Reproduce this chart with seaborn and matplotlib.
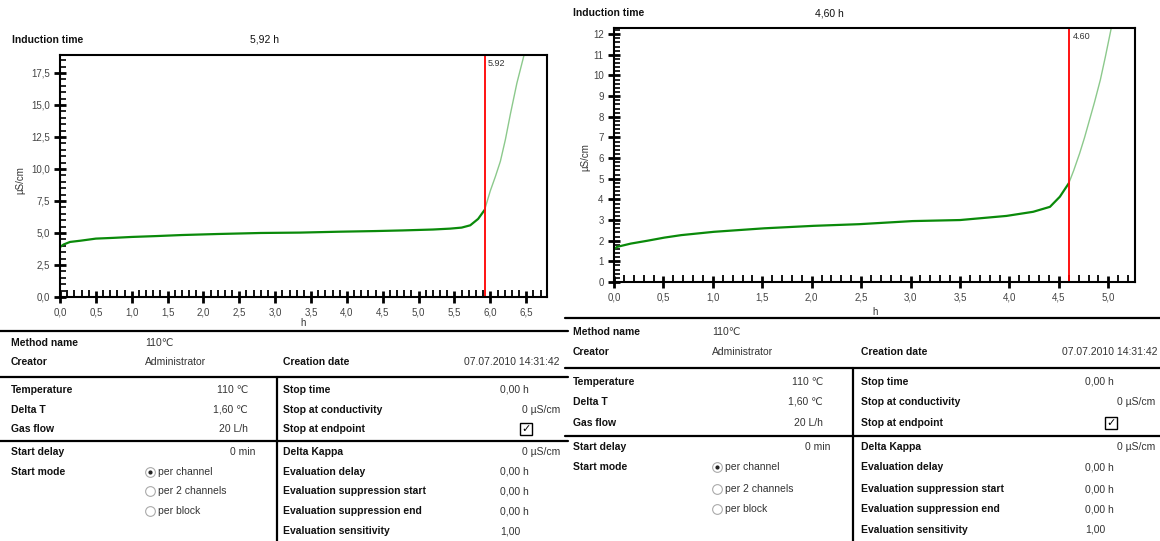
import numpy as np
import pandas as pd
import matplotlib
matplotlib.use("Agg")
import matplotlib.pyplot as plt
import seaborn as sns
from matplotlib.ticker import MultipleLocator, FuncFormatter
from matplotlib.lines import Line2D

# ---------------- data ----------------
left_t_pre = [0.00, 0.05, 0.14, 0.29, 0.50, 0.75, 1.00, 1.35, 1.70, 2.20, 2.80, 3.35, 3.90, 4.40, 4.78, 5.20, 5.44, 5.60, 5.72, 5.83, 5.92]
left_k_pre = [3.90, 4.10, 4.30, 4.40, 4.56, 4.62, 4.69, 4.76, 4.84, 4.92, 5.00, 5.03, 5.10, 5.15, 5.20, 5.27, 5.34, 5.42, 5.60, 6.10, 6.80]
left_t_post = [5.92, 6.00, 6.07, 6.14, 6.21, 6.28, 6.37, 6.47]
left_k_post = [6.80, 8.30, 9.40, 10.60, 12.30, 14.30, 16.70, 18.90]
left_induction = 5.92

right_t_pre = [0.00, 0.03, 0.17, 0.34, 0.51, 0.68, 1.01, 1.52, 2.02, 2.48, 3.02, 3.50, 3.97, 4.24, 4.41, 4.51, 4.60]
right_k_pre = [1.57, 1.70, 1.86, 2.00, 2.15, 2.27, 2.43, 2.60, 2.72, 2.80, 2.95, 3.00, 3.20, 3.40, 3.64, 4.13, 4.78]
right_t_post = [4.60, 4.65, 4.71, 4.76, 4.81, 4.86, 4.92, 4.97, 5.03]
right_k_post = [4.78, 5.40, 6.23, 7.00, 7.85, 8.70, 9.80, 10.90, 12.30]
right_induction = 4.60

left_header = ["Induction time", "5,92 h"]
right_header = ["Induction time", "4,60 h"]

method_labels = ["Method name", "Creator"]
method_values = ["110\u2103", "Administrator"]
cond_labels = ["Temperature", "Delta T", "Gas flow"]
cond_values = ["110 \u2103", "1,60 \u2103", "20 L/h"]
start_labels = ["Start delay", "Start mode"]
start_value = "0 min"
start_modes = ["per channel", "per 2 channels", "per block"]
stop_labels = ["Stop time", "Stop at conductivity", "Stop at endpoint"]
stop_values = ["0,00 h", "0 \u00b5S/cm", ""]
eval_labels = ["Delta Kappa", "Evaluation delay", "Evaluation suppression start",
               "Evaluation suppression end", "Evaluation sensitivity"]
eval_values = ["0 \u00b5S/cm", "0,00 h", "0,00 h", "0,00 h", "1,00"]
creation_label = "Creation date"
creation_value = "07.07.2010 14:31:42"

# ---------------- style ----------------
sns.set_style("white")
plt.rcParams["font.family"] = ["Liberation Sans", "DejaVu Sans"]

W, H = 1160, 541
fig = plt.figure(figsize=(W / 100, H / 100), dpi=100)
fig.patch.set_facecolor("white")


def fx(x):
    return x / W


def fy(y):
    return 1 - y / H


def T(x, y, s, ha="left", bold=False, size=7.5, color="#111111", **kw):
    fig.text(fx(x), fy(y), s, ha=ha, va="center", fontsize=size,
             fontweight="bold" if bold else "normal", color=color, **kw)


def HL(y, x0, x1, lw=1.0):
    fig.add_artist(Line2D([fx(x0), fx(x1)], [fy(y), fy(y)], color="black", lw=lw,
                          transform=fig.transFigure))


def VL(x, y0, y1, lw=1.0):
    fig.add_artist(Line2D([fx(x), fx(x)], [fy(y0), fy(y1)], color="black", lw=lw,
                          transform=fig.transFigure))


def comma(dec):
    return FuncFormatter(lambda v, p: (f"{v:.{dec}f}").replace(".", ","))


def make_chart(box, t_pre, k_pre, t_post, k_post, tind, xlim, ylim,
               ymaj, ymin, ydec, lab):
    x0, y0, x1, y1 = box
    ax = fig.add_axes([fx(x0), fy(y1), fx(x1 - x0), (y1 - y0) / H])
    d1 = pd.DataFrame({"t": t_pre, "k": k_pre})
    d2 = pd.DataFrame({"t": t_post, "k": k_post})
    sns.lineplot(data=d1, x="t", y="k", ax=ax, color="#0a8a0a", lw=1.6)
    sns.lineplot(data=d2, x="t", y="k", ax=ax, color="#8cc98c", lw=1.0)
    ax.axvline(tind, color="#ff0000", lw=1.3)
    ax.text(tind + 0.04, ylim[1] * 0.985, lab, ha="left", va="top",
            fontsize=6.5, color="#333333")
    ax.set_xlim(*xlim)
    ax.set_ylim(*ylim)
    ax.set_xlabel("")
    ax.set_ylabel("")
    for s in ax.spines.values():
        s.set_color("black")
        s.set_linewidth(1.5)
    ax.xaxis.set_major_locator(MultipleLocator(0.5))
    ax.xaxis.set_minor_locator(MultipleLocator(0.1))
    ax.yaxis.set_major_locator(MultipleLocator(ymaj))
    ax.yaxis.set_minor_locator(MultipleLocator(ymin))
    ax.xaxis.set_major_formatter(comma(1))
    ax.yaxis.set_major_formatter(comma(ydec))
    ax.tick_params(axis="both", which="major", direction="inout", length=9,
                   width=2, color="black", labelsize=7, labelcolor="#444444", pad=3)
    ax.tick_params(axis="x", which="minor", direction="in", length=5,
                   width=1.3, color="black")
    ax.tick_params(axis="y", which="minor", direction="in", length=4.5,
                   width=1.2, color="black")
    ax.tick_params(bottom=True, left=True, top=False, right=False, which="both")
    return ax


axL = make_chart((60, 55, 547, 297), left_t_pre, left_k_pre, left_t_post, left_k_post,
                 left_induction, (0, 6.79), (0, 18.9), 2.5, 0.5, 1, "5.92")
axR = make_chart((614, 28, 1135, 282), right_t_pre, right_k_pre, right_t_post, right_k_post,
                 right_induction, (0, 5.27), (0, 12.3), 1, 0.2, 0, "4.60")

# axis labels
T(20, 180, "\u00b5S/cm", ha="center", size=7, rotation=90, color="#333333")
T(585, 157, "\u00b5S/cm", ha="center", size=7, rotation=90, color="#333333")
T(303, 323, "h", ha="center", size=7, color="#333333")
T(875, 312, "h", ha="center", size=7, color="#333333")

# headers
T(12, 40, left_header[0], bold=True, size=7.5)
T(250, 40, left_header[1], size=7.5)
T(573, 13, right_header[0], bold=True, size=7.5)
T(815, 13, right_header[1], size=7.5)


def radio(x, y, selected):
    fig.add_artist(Line2D([fx(x)], [fy(y)], marker="o", markersize=7,
                          mfc="white", mec="#aaaaaa", mew=0.8,
                          transform=fig.transFigure))
    if selected:
        fig.add_artist(Line2D([fx(x)], [fy(y)], marker="o", markersize=2,
                              mfc="#222222", mec="#222222",
                              transform=fig.transFigure))


def checkbox(x, y):
    fig.add_artist(Line2D([fx(x)], [fy(y)], marker="s", markersize=8.5,
                          mfc="white", mec="black", mew=1.0,
                          transform=fig.transFigure))
    fig.text(fx(x), fy(y), "\u2713", ha="center", va="center", fontsize=8,
             family="DejaVu Sans", fontweight="bold", color="black")


def table(L):
    x_lab, x_val, x_condend, x_div, x_lab2, x_val2, x_val2end, x_end = L["x"]
    (y_top, y_m1, y_m2, y_l1, y_c1, y_c2, y_c3, y_l2, y_s1, y_s2, y_s3, y_s4, y_s5) = L["y"]
    x_line0, x_line1 = L["lines"]
    HL(y_top, x_line0, x_line1, lw=1.6)
    HL(y_l1, x_line0, x_line1, lw=1.6)
    HL(y_l2, x_line0, x_line1, lw=1.6)
    VL(x_div, y_l1, 541, lw=1.6)
    for lab, val, y in zip(method_labels, method_values, [y_m1, y_m2]):
        T(x_lab, y, lab, bold=True)
        T(x_val, y, val, color="#333333")
    T(x_lab2, y_m2, creation_label, bold=True)
    T(x_end, y_m2, creation_value, ha="right", color="#333333")
    for lab, val, y in zip(cond_labels, cond_values, [y_c1, y_c2, y_c3]):
        T(x_lab, y, lab, bold=True)
        T(x_condend, y, val, ha="right", color="#333333")
    for i, (lab, val, y) in enumerate(zip(stop_labels, stop_values, [y_c1, y_c2, y_c3])):
        T(x_lab2, y, lab, bold=True)
        if "\u00b5" in val:
            T(x_val2end, y, val, ha="right", color="#333333")
        elif val:
            T(x_val2, y, val, color="#333333")
        else:
            checkbox(x_val2 + 26, y)
    T(x_lab, y_s1, start_labels[0], bold=True)
    T(x_condend + 7, y_s1, start_value, ha="right", color="#333333")
    T(x_lab, y_s2, start_labels[1], bold=True)
    for i, (m, y) in enumerate(zip(start_modes, [y_s2, y_s3, y_s4])):
        radio(x_val + 5, y, i == 0)
        T(x_val + 13, y, m, color="#333333")
    for lab, val, y in zip(eval_labels, eval_values, [y_s1, y_s2, y_s3, y_s4, y_s5]):
        T(x_lab2, y, lab, bold=True)
        if "\u00b5" in val:
            T(x_val2end, y, val, ha="right", color="#333333")
        else:
            T(x_val2, y, val, color="#333333")


table({"x": (11, 145, 248, 277, 283, 500, 560, 560),
       "y": (331, 343, 362, 377, 390, 410, 429, 441, 452, 472, 491, 511, 531),
       "lines": (0, 568)})
table({"x": (573, 712, 823, 853, 861, 1085, 1155, 1157),
       "y": (318, 332, 352, 368, 382, 402, 423, 436, 447, 467, 489, 509, 530),
       "lines": (565, 1160)})

fig.savefig("out.png", dpi=100, facecolor="white")
